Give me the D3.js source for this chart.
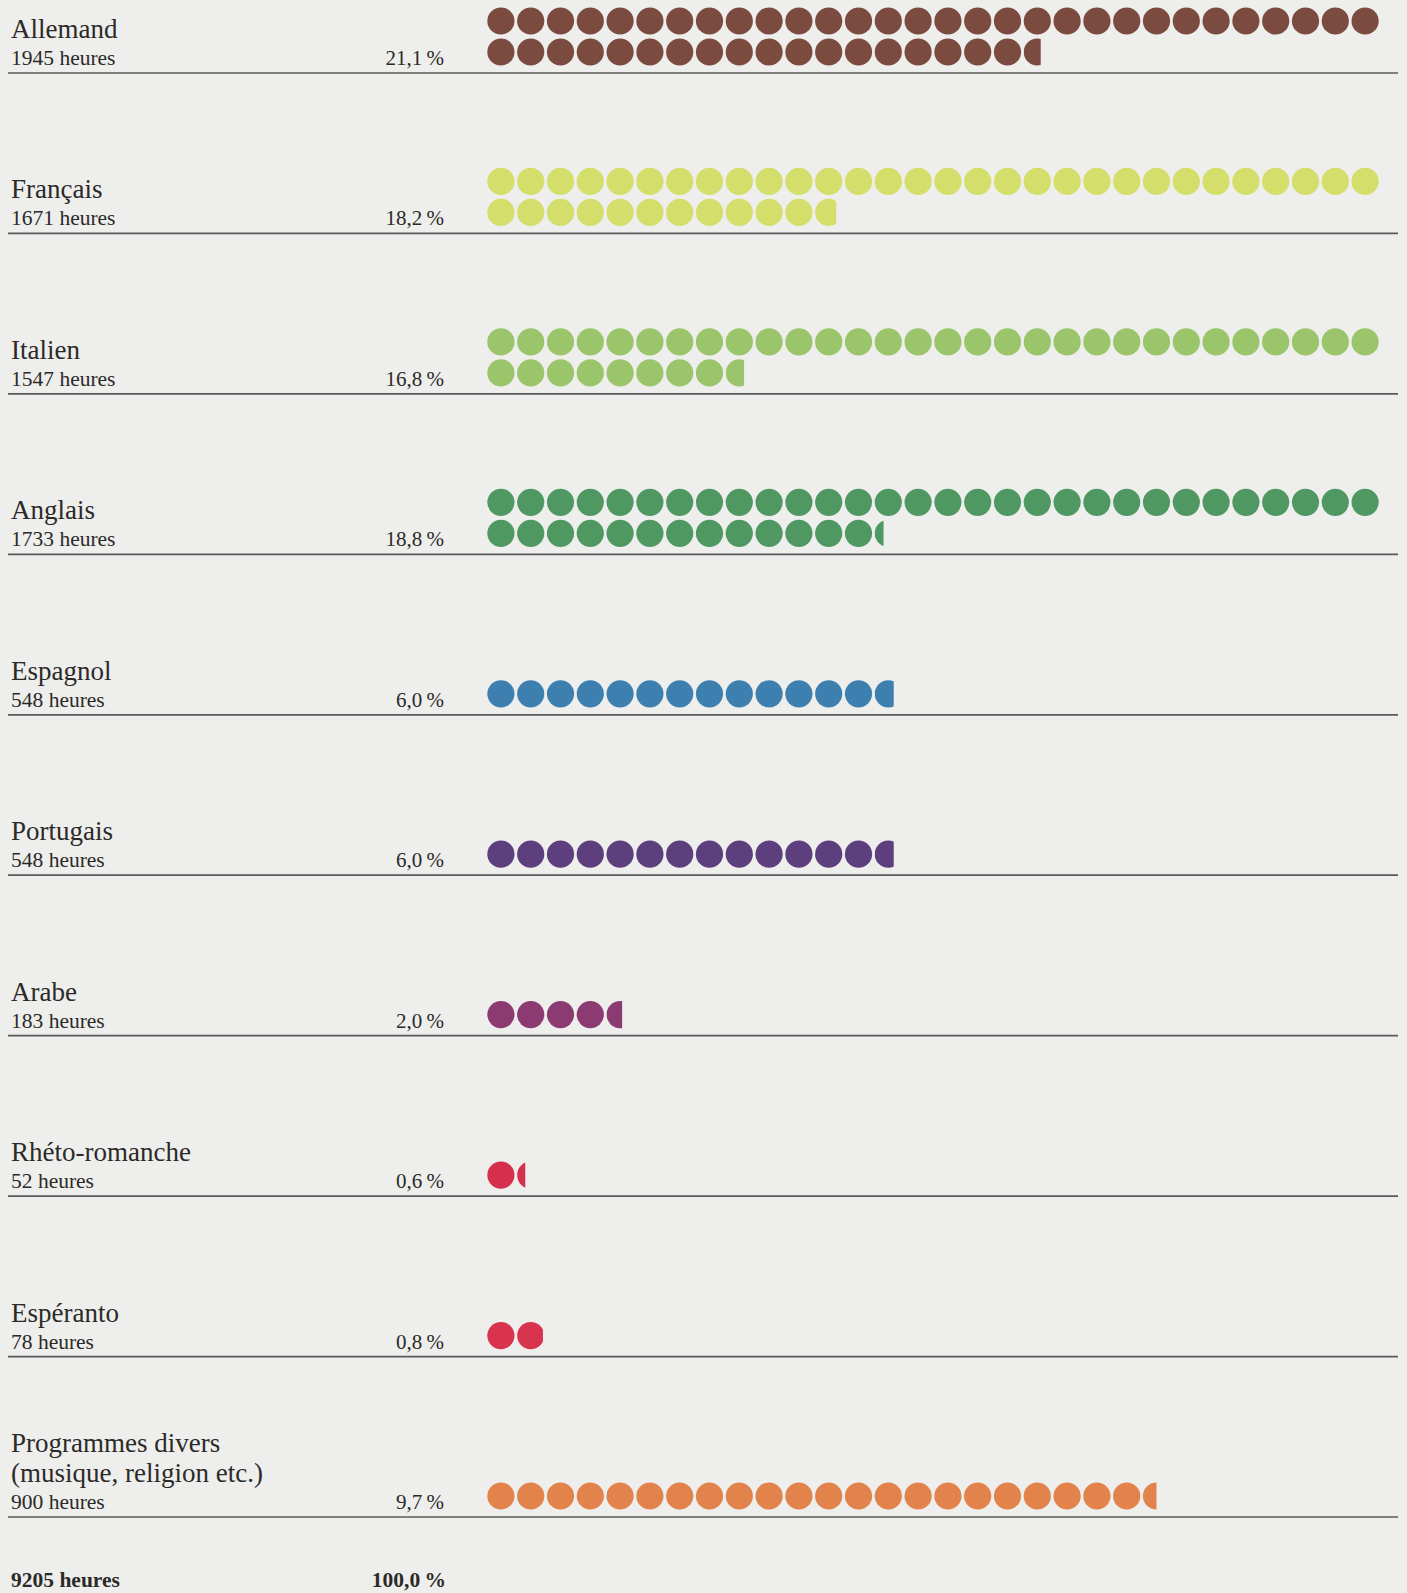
<!DOCTYPE html>
<html>
<head>
<meta charset="utf-8">
<script src="https://cdn.jsdelivr.net/npm/d3@7"></script>
<style>
  html, body { margin: 0; padding: 0; background: #eeeeec; }
  svg { display: block; }
</style>
</head>
<body>
<svg id="chart" width="1407" height="1593"></svg>
<script>
// ---- data ----
const languages = ["Allemand", "Français", "Italien", "Anglais", "Espagnol", "Portugais", "Arabe", "Rhéto-romanche", "Espéranto", "Programmes divers\n(musique, religion etc.)"];
const hours = [1945, 1671, 1547, 1733, 548, 548, 183, 52, 78, 900];
const percents = [21.1, 18.2, 16.8, 18.8, 6.0, 6.0, 2.0, 0.6, 0.8, 9.7];
const colors = ["#7b4b3f", "#d3de6b", "#9bc56b", "#4f9862", "#3d80b0", "#5c3f7c", "#8c3b72", "#d4304e", "#d8344e", "#e3834c"];
const totalHours = 9205;
const totalPercent = 100.0;
const hoursPerDot = 40;
const dotsPerRow = 30;

// ---- layout ----
const svg = d3.select("#chart");
const lineX0 = 8, lineX1 = 1398;
const yLine = d3.scaleLinear().domain([0, languages.length - 1]).range([73, 1517]);
const xDot = d3.scaleLinear().domain([0, dotsPerRow]).range([486, 486 + dotsPerRow * 29.8]);
const r = 13.6;
const rowGap = 31;
const fmtPct = v => d3.format(".1f")(v).replace(".", ",") + "\u2009%";
const textColor = "#2b2a28";
const serif = "'Liberation Serif', 'Times New Roman', serif";

const defs = svg.append("defs");

languages.forEach((name, i) => {
  const L = yLine(i);
  const g = svg.append("g");
  g.append("line")
    .attr("x1", lineX0).attr("x2", lineX1)
    .attr("y1", L).attr("y2", L)
    .attr("stroke", "#5a5a5a").attr("stroke-width", 1.7);

  const nameLines = name.split("\n");
  nameLines.forEach((t, k) => {
    g.append("text")
      .attr("x", 11)
      .attr("y", L - 35 - (nameLines.length - 1 - k) * 30)
      .attr("font-family", serif)
      .attr("font-size", 27)
      .attr("fill", textColor)
      .text(t);
  });
  g.append("text")
    .attr("x", 11).attr("y", L - 8)
    .attr("font-family", serif).attr("font-size", 21.5)
    .attr("fill", textColor)
    .text(hours[i] + " heures");
  g.append("text")
    .attr("x", 444).attr("y", L - 8)
    .attr("text-anchor", "end")
    .attr("font-family", serif).attr("font-size", 21)
    .attr("fill", textColor)
    .text(fmtPct(percents[i]));

  const units = hours[i] / hoursPerDot;
  const full = Math.floor(units);
  const frac = units - full;
  const n = full + (frac > 0.001 ? 1 : 0);
  const nRows = Math.ceil(n / dotsPerRow);
  const dots = d3.range(n).map(k => ({
    row: Math.floor(k / dotsPerRow),
    col: k % dotsPerRow,
    frac: k < full ? 1 : frac
  }));
  dots.forEach(d => {
    const cx = xDot(d.col + 0.5);
    const cy = L - 21 - (nRows - 1 - d.row) * rowGap;
    const c = g.append("circle")
      .attr("cx", cx).attr("cy", cy).attr("r", r)
      .attr("fill", colors[i]);
    if (d.frac < 1) {
      const id = "clip-" + i;
      defs.append("clipPath").attr("id", id)
        .append("rect")
        .attr("x", cx - r).attr("y", cy - r - 1)
        .attr("width", 2 * r * d.frac).attr("height", 2 * r + 2);
      c.attr("clip-path", "url(#" + id + ")");
    }
  });
});

// totals
const yTot = 1587;
svg.append("text")
  .attr("x", 11).attr("y", yTot)
  .attr("font-family", serif).attr("font-size", 21.5).attr("font-weight", "bold")
  .attr("fill", textColor)
  .text(totalHours + " heures");
svg.append("text")
  .attr("x", 446).attr("y", yTot)
  .attr("text-anchor", "end")
  .attr("font-family", serif).attr("font-size", 21.5).attr("font-weight", "bold")
  .attr("fill", textColor)
  .text(fmtPct(totalPercent));
</script>
</body>
</html>
